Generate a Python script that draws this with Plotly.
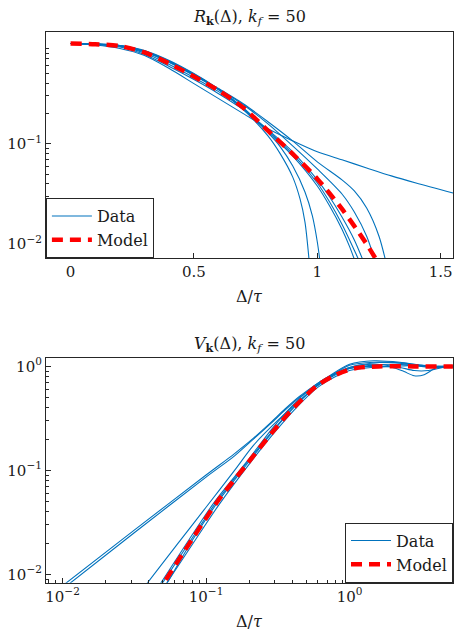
import plotly.graph_objects as go

# ---------------- Top panel: R_k(Delta) ----------------
r_model_d = [0, 0.1, 0.2, 0.3, 0.4, 0.5, 0.6, 0.7, 0.8, 0.9, 1.0, 1.1, 1.2, 1.25]
r_model = [1.0, 0.982, 0.942, 0.813, 0.631, 0.468, 0.339, 0.229, 0.135, 0.0794, 0.0447, 0.0224, 0.0100, 0.0063]

grid10 = [0, 0.1, 0.2, 0.3, 0.4, 0.5, 0.6, 0.7, 0.8, 0.9]
r_a_d = grid10 + [1.0, 1.1, 1.2, 1.3, 1.4, 1.55]
r_a = [1, 0.966, 0.891, 0.759, 0.562, 0.398, 0.282, 0.200, 0.141, 0.107, 0.0832, 0.0692, 0.0575, 0.0479, 0.0407, 0.0324]
r_b_d = [0, 0.1, 0.2, 0.3, 0.4, 0.5, 0.6, 0.7, 0.8, 0.85, 0.9, 0.93, 0.95, 0.97]
r_b = [1, 0.989, 0.955, 0.841, 0.661, 0.490, 0.347, 0.219, 0.120, 0.0794, 0.0468, 0.0282, 0.0166, 0.00562]
r_c_d = [0, 0.1, 0.2, 0.3, 0.4, 0.5, 0.6, 0.7, 0.8, 0.85, 0.9, 0.95, 0.98, 1.0, 1.015]
r_c = [1, 0.986, 0.951, 0.832, 0.653, 0.484, 0.347, 0.224, 0.129, 0.0933, 0.0603, 0.0331, 0.0191, 0.0105, 0.00562]
r_d_d = grid10 + [1.0, 1.05, 1.1, 1.13, 1.165]
r_d = [1, 0.984, 0.944, 0.822, 0.646, 0.479, 0.347, 0.229, 0.132, 0.0759, 0.0380, 0.0240, 0.0141, 0.00955, 0.00562]
r_e_d = grid10 + [1.0, 1.05, 1.1, 1.15, 1.185]
r_e = [1, 0.982, 0.938, 0.804, 0.617, 0.457, 0.331, 0.224, 0.135, 0.0794, 0.0407, 0.0263, 0.0158, 0.00871, 0.00562]
r_f_d = grid10 + [1.0, 1.05, 1.1, 1.15, 1.2]
r_f = [1, 0.977, 0.923, 0.776, 0.589, 0.437, 0.316, 0.219, 0.138, 0.0832, 0.0437, 0.0295, 0.0186, 0.0110, 0.00562]
r_g_d = grid10 + [1.0, 1.1, 1.15, 1.2, 1.25, 1.285]
r_g = [1, 0.991, 0.955, 0.851, 0.676, 0.501, 0.355, 0.251, 0.166, 0.107, 0.0661, 0.0437, 0.0339, 0.0229, 0.0120, 0.00562]
r_h_d = grid10 + [1.0, 1.1, 1.15, 1.2, 1.245]
r_h = [1, 0.989, 0.951, 0.841, 0.668, 0.495, 0.351, 0.245, 0.158, 0.0955, 0.0562, 0.0316, 0.0209, 0.0120, 0.00562]

r_data = [(r_a_d, r_a), (r_b_d, r_b), (r_c_d, r_c), (r_d_d, r_d),
          (r_e_d, r_e), (r_f_d, r_f), (r_g_d, r_g), (r_h_d, r_h)]

# ---------------- Bottom panel: V_k(Delta) ----------------
v_model_d = [0.0447, 0.0794, 0.120, 0.195, 0.295, 0.407, 0.589, 0.776, 1.072, 1.585, 2.818, 5.248]
v_model = [0.00631, 0.0214, 0.0501, 0.117, 0.240, 0.398, 0.646, 0.813, 0.955, 1.0, 1.0, 1.0]

v_s1_d = [0.0100, 0.0316, 0.100, 0.158, 0.214, 0.282, 0.355, 0.447, 0.562, 0.708, 1.0, 1.479, 2.239, 3.162, 3.981, 5.248]
v_s1 = [0.00776, 0.0266, 0.0902, 0.145, 0.204, 0.288, 0.389, 0.513, 0.646, 0.794, 1.047, 1.132, 1.096, 1.023, 1.0, 1.0]
v_s2_d = [0.0107, 0.0316, 0.100, 0.158, 0.214, 0.282, 0.355, 0.447, 0.562, 0.708, 1.0, 1.479, 2.239, 3.162, 3.981, 5.248]
v_s2 = [0.00776, 0.0251, 0.0861, 0.138, 0.200, 0.282, 0.380, 0.501, 0.631, 0.776, 1.023, 1.096, 1.072, 1.0, 0.977, 1.0]
v_m_d = [0.0372, 0.0631, 0.100, 0.158, 0.214, 0.316, 0.447, 0.631, 0.794, 1.0, 1.479, 2.239, 2.818, 3.548, 4.467, 5.248]
v_m = [0.00759, 0.0195, 0.0442, 0.100, 0.174, 0.302, 0.468, 0.692, 0.851, 0.977, 1.047, 0.977, 0.912, 0.912, 0.977, 1.0]
v_p1_d = [0.0427, 0.0759, 0.115, 0.191, 0.288, 0.398, 0.575, 0.759, 1.0, 1.413, 1.995, 2.818, 3.981, 5.248]
v_p1 = [0.00631, 0.0214, 0.0501, 0.120, 0.251, 0.417, 0.661, 0.832, 0.955, 1.023, 1.047, 1.023, 0.977, 1.0]
v_p2_d = [0.0468, 0.0832, 0.126, 0.200, 0.302, 0.417, 0.603, 0.794, 1.0, 1.413, 1.995, 2.818, 3.981, 5.248]
v_p2 = [0.00631, 0.0209, 0.0490, 0.115, 0.234, 0.389, 0.631, 0.794, 0.912, 0.977, 1.0, 1.023, 1.0, 0.977]
v_p3_d = [0.0479, 0.0813, 0.123, 0.195, 0.295, 0.407, 0.589, 0.776, 1.0, 1.413, 1.995, 2.818, 3.981, 5.248]
v_p3 = [0.00631, 0.0219, 0.0513, 0.117, 0.240, 0.398, 0.646, 0.832, 0.977, 1.072, 1.096, 1.047, 1.0, 1.0]
v_p4_d = [0.0437, 0.0776, 0.117, 0.191, 0.295, 0.407, 0.589, 0.776, 1.0, 1.413, 1.995, 2.399, 2.818, 3.311, 3.802, 4.169, 5.248]
v_p4 = [0.00631, 0.0209, 0.0490, 0.117, 0.245, 0.407, 0.646, 0.813, 0.955, 1.0, 0.977, 0.891, 0.813, 0.832, 0.933, 1.0, 1.0]

v_data = [(v_s1_d, v_s1), (v_s2_d, v_s2), (v_m_d, v_m), (v_p1_d, v_p1),
          (v_p2_d, v_p2), (v_p3_d, v_p3), (v_p4_d, v_p4)]

top_xticks = [0, 0.5, 1, 1.5]
top_xtext = ["0", "0.5", "1", "1.5"]
top_yticks = [0.01, 0.1]
top_ytext = ["10<sup>−2</sup>", "10<sup>−1</sup>"]
bot_yticks = [0.01, 0.1, 1]
bot_ytext = ["10<sup>−2</sup>", "10<sup>−1</sup>", "10<sup>0</sup>"]
bot_xticks = [0.01, 0.1, 1]
bot_xtext = ["10<sup>−2</sup>", "10<sup>−1</sup>", "10<sup>0</sup>"]

BLUE = "#0072BD"
RED = "#FF0000"
AX = "#262626"
FONT = "DejaVu Serif"

fig = go.Figure()

for i, (d, r) in enumerate(r_data):
    fig.add_trace(go.Scatter(x=d, y=r, mode="lines", line=dict(color=BLUE, width=1.1, shape="spline", smoothing=0.8),
                             name="Data", showlegend=(i == 0), legendgroup="d1",
                             xaxis="x", yaxis="y", legend="legend"))
fig.add_trace(go.Scatter(x=r_model_d, y=r_model, mode="lines",
                         line=dict(color=RED, width=4.5, dash="11px,7px", shape="spline", smoothing=0.8),
                         name="Model", xaxis="x", yaxis="y", legend="legend"))

for i, (d, v) in enumerate(v_data):
    fig.add_trace(go.Scatter(x=d, y=v, mode="lines", line=dict(color=BLUE, width=1.1, shape="spline", smoothing=0.8),
                             name="Data", showlegend=(i == 0), legendgroup="d2",
                             xaxis="x2", yaxis="y2", legend="legend2"))
fig.add_trace(go.Scatter(x=v_model_d, y=v_model, mode="lines",
                         line=dict(color=RED, width=4.5, dash="11px,7px", shape="spline", smoothing=0.8),
                         name="Model", xaxis="x2", yaxis="y2", legend="legend2"))

W, H = 461, 639
xdom = [45 / W, 453 / W]
top_dom = [1 - 256.7 / H, 1 - 29 / H]
bot_dom = [1 - 583.3 / H, 1 - 357.3 / H]

minor_log = [m * 10 ** e for e in (-3, -2, -1, 0) for m in range(2, 10)]

axis_common = dict(showline=True, linecolor=AX, linewidth=1, mirror=True, ticks="inside",
                   tickcolor=AX, ticklen=5, tickwidth=1, showgrid=False, zeroline=False,
                   tickfont=dict(family=FONT, size=15, color="#1a1a1a"))

fig.update_layout(
    width=W, height=H, margin=dict(l=0, r=0, t=0, b=0),
    paper_bgcolor="white", plot_bgcolor="white",
    font=dict(family=FONT, size=16, color="#1a1a1a"),
    xaxis=dict(domain=xdom, anchor="y", range=[-0.1, 1.55], tickmode="array",
               tickvals=top_xticks, ticktext=top_xtext, **axis_common),
    yaxis=dict(domain=top_dom, anchor="x", type="log", range=[-2.139, 0.116], tickmode="array",
               tickvals=top_yticks, ticktext=top_ytext,
               minor=dict(tickmode="array", tickvals=minor_log, ticks="inside", ticklen=3,
                          tickcolor=AX, showgrid=False), **axis_common),
    xaxis2=dict(domain=xdom, anchor="y2", type="log", range=[-2.116, 0.721], tickmode="array",
                tickvals=bot_xticks, ticktext=bot_xtext,
                minor=dict(tickmode="array", tickvals=minor_log, ticks="inside", ticklen=3,
                           tickcolor=AX, showgrid=False), **axis_common),
    yaxis2=dict(domain=bot_dom, anchor="x2", type="log", range=[-2.08, 0.08], tickmode="array",
                tickvals=bot_yticks, ticktext=bot_ytext,
                minor=dict(tickmode="array", tickvals=minor_log, ticks="inside", ticklen=3,
                           tickcolor=AX, showgrid=False), **axis_common),
    legend=dict(x=xdom[0], y=top_dom[0], xanchor="left", yanchor="bottom",
                bgcolor="white", bordercolor=AX, borderwidth=1, itemwidth=40,
                font=dict(family=FONT, size=16, color="#1a1a1a"), tracegroupgap=0),
    legend2=dict(x=xdom[1], y=bot_dom[0], xanchor="right", yanchor="bottom",
                 bgcolor="white", bordercolor=AX, borderwidth=1, itemwidth=40,
                 font=dict(family=FONT, size=16, color="#1a1a1a"), tracegroupgap=0),
    annotations=[
        dict(text="<i>R</i><sub><b>k</b></sub>(Δ), <i>k<sub>f</sub></i> = 50", x=(xdom[0] + xdom[1]) / 2,
             y=1 - 14.5 / H, xref="paper", yref="paper", showarrow=False, font=dict(size=16),
             xanchor="center", yanchor="middle"),
        dict(text="<i>V</i><sub><b>k</b></sub>(Δ), <i>k<sub>f</sub></i> = 50", x=(xdom[0] + xdom[1]) / 2,
             y=1 - 343.5 / H, xref="paper", yref="paper", showarrow=False, font=dict(size=16),
             xanchor="center", yanchor="middle"),
        dict(text="Δ/<i>τ</i>", x=(xdom[0] + xdom[1]) / 2, y=1 - 295.5 / H, xref="paper", yref="paper",
             showarrow=False, font=dict(size=16), xanchor="center", yanchor="middle"),
        dict(text="Δ/<i>τ</i>", x=(xdom[0] + xdom[1]) / 2, y=1 - 622 / H, xref="paper", yref="paper",
             showarrow=False, font=dict(size=16), xanchor="center", yanchor="middle"),
    ],
)

fig.write_html("out.html")
